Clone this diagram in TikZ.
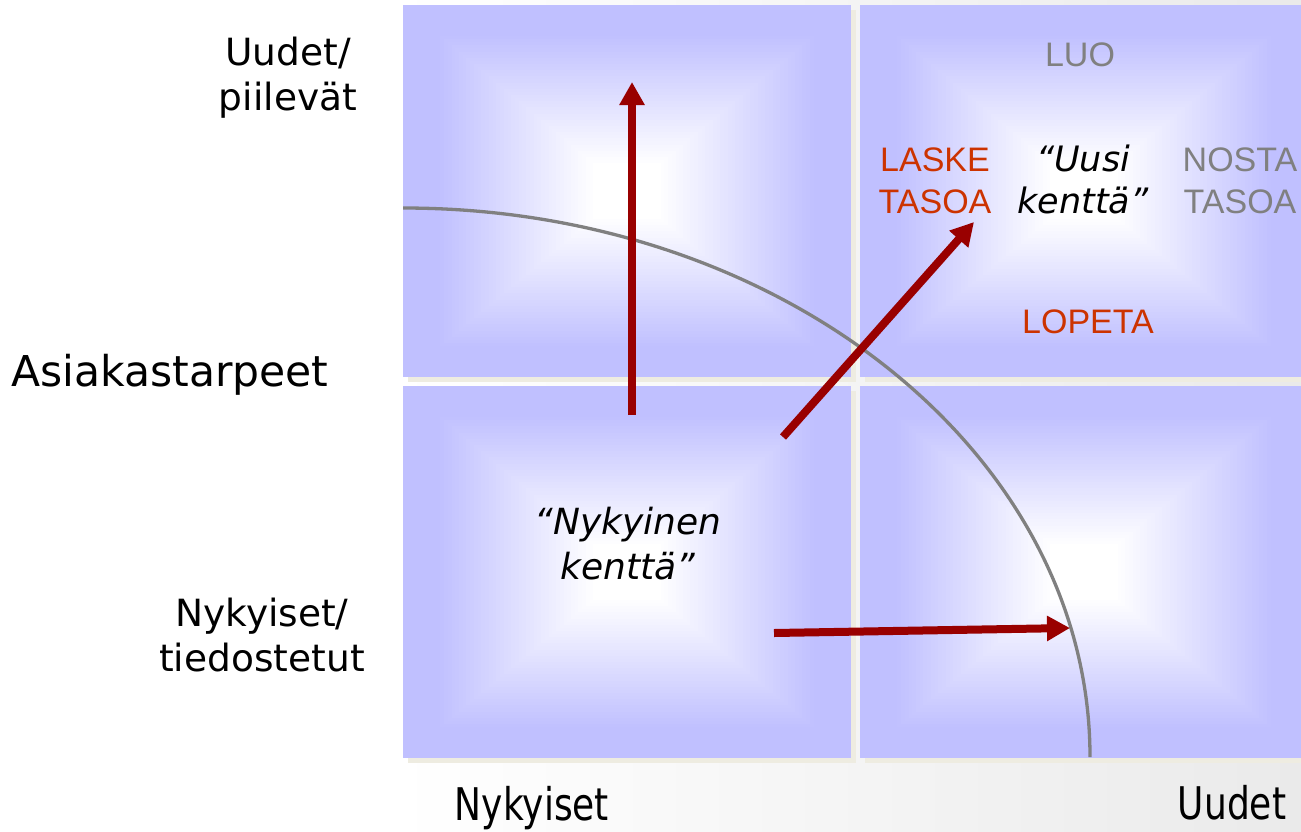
\documentclass[tikz,border=0pt]{standalone}
\usepackage{fontspec}
\setmainfont{DejaVu Sans}
\newfontfamily\arialf{Liberation Sans}
\usetikzlibrary{arrows.meta}
\definecolor{quadc}{HTML}{C0C0FF}
\definecolor{shadowc}{HTML}{EEECE1}
\definecolor{arrowred}{HTML}{990000}
\definecolor{curvegray}{HTML}{808080}
\definecolor{wordred}{HTML}{CC3300}
\definecolor{wordgray}{HTML}{808080}
\definecolor{bggray}{HTML}{EAEAEA}
\newcommand\myquad[4]{%
  \fill[shadowc] (#1+5,#2+5) rectangle (#3+5,#4+5);
  \fill[quadc] (#1,#2) rectangle (#3,#4);
  \pgfmathsetmacro\qcx{(#1+#3)/2}
  \pgfmathsetmacro\qcy{(#2+#4)/2}
  \pgfmathsetmacro\qhx{(#3-#1)/2}
  \pgfmathsetmacro\qhy{(#4-#2)/2}
  \foreach \i in {1,...,60}{
    \pgfmathsetmacro\tt{1-\i/60}
    \pgfmathtruncatemacro\pp{max(0,min(100,100*(0.85-\tt)/0.7))}
    \fill[white!\pp!quadc] (\qcx-\qhx*\tt,\qcy-\qhy*\tt) rectangle (\qcx+\qhx*\tt,\qcy+\qhy*\tt);
  }%
}
\tikzset{
  lbl/.style={font=\fontsize{37.5}{45}\selectfont, align=center, inner sep=0pt},
  qword/.style={font=\arialf\fontsize{34}{42}\selectfont, align=center, inner sep=0pt},
  qitalic/.style={font=\itshape\fontsize{35}{42}\selectfont, align=center, inner sep=0pt},
  axlbl/.style={font=\fontsize{45}{50}\selectfont, inner sep=0pt},
  bigarrow/.style={draw=arrowred, line width=8pt, -{Triangle[width=24pt,length=23pt]}},
  curvestyle/.style={draw=curvegray, line width=3.3pt}
}
\begin{document}
\begin{tikzpicture}[x=1pt,y=-1pt]
\useasboundingbox (0,0) rectangle (1301,831);
\clip (0,0) rectangle (1301,831);
% background
\shade[left color=white, right color=bggray] (395,0) rectangle (1301,831);
% quadrants
\myquad{403}{5}{851}{377}
\myquad{860}{5}{1308}{377}
\myquad{403}{386}{851}{758}
\myquad{860}{386}{1308}{758}
% curve
\coordinate (cstart) at (403,208);
\draw[curvestyle] (cstart) arc[start angle=270, end angle=360, x radius=687, y radius=549];
% arrows
\coordinate (vs) at (632,415);
\coordinate (ve) at (632,82);
\coordinate (ds) at (783,437);
\coordinate (de) at (974,222);
\coordinate (hs) at (774,633);
\coordinate (he) at (1070,628);
\draw[bigarrow] (vs) -- (ve);
\draw[bigarrow] (ds) -- (de);
\draw[bigarrow] (hs) -- (he);
% left labels
\node[lbl] (uudetp) at (288,78) {Uudet/\\piilevät};
\node[lbl, font=\fontsize{42.5}{45}\selectfont, anchor=west] (asiak) at (11,375) {Asiakastarpeet};
\node[lbl] (nykyt) at (262,635) {Nykyiset/\\tiedostetut};
% quadrant texts
\node[qitalic, font=\itshape\fontsize{36}{45}\selectfont] (nykk) at (628,544) {“Nykyinen\\kenttä”};
\node[qitalic] (uusik) at (1083,179) {“Uusi\\kenttä”};
\node[qword, text=wordgray] (luo) at (1080,55) {LUO};
\node[qword, text=wordred] (laske) at (935,181) {LASKE\\TASOA};
\node[qword, text=wordgray] (nosta) at (1240,181) {NOSTA\\TASOA};
\node[qword, text=wordred] (lopeta) at (1088,322) {LOPETA};
% axis labels
\node[axlbl] (nykb) at (532,808) {\scalebox{0.8}[1]{Nykyiset}};
\node[axlbl] (uudb) at (1232,803) {\scalebox{0.8}[1]{Uudet}};
\end{tikzpicture}
\end{document}
